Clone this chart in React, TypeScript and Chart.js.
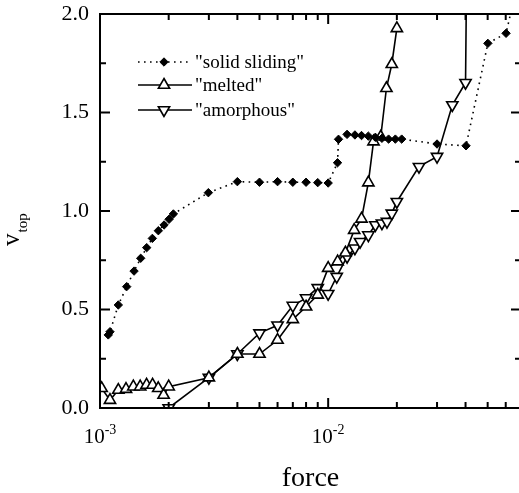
import React, { useEffect, useRef } from "react";
import { Chart, registerables } from "chart.js";

Chart.register(...registerables);

// "solid sliding" run
const solidForce = [
  1.087e-3, 1.106e-3, 1.203e-3, 1.309e-3, 1.41e-3, 1.508e-3, 1.602e-3, 1.696e-3, 1.802e-3,
  1.909e-3, 2.007e-3, 2.097e-3, 2.985e-3, 4.0e-3, 5.0e-3, 6.0e-3, 7.0e-3, 8.0e-3, 9.0e-3,
  1.0e-2, 1.099e-2, 1.11e-2, 1.21e-2, 1.31e-2, 1.4e-2, 1.5e-2, 1.61e-2, 1.72e-2, 1.84e-2,
  1.97e-2, 2.1e-2, 3.0e-2, 4.02e-2, 5.01e-2, 6.02e-2, 6.9e-2,
];
const solidV = [
  0.371, 0.387, 0.523, 0.616, 0.695, 0.76, 0.814, 0.861, 0.9,
  0.929, 0.958, 0.985, 1.093, 1.149, 1.146, 1.149, 1.146, 1.146, 1.144,
  1.142, 1.245, 1.364, 1.389, 1.386, 1.383, 1.38, 1.374, 1.369, 1.365,
  1.365, 1.365, 1.34, 1.331, 1.851, 1.902, 2.2,
];

// "melted" run
const meltedForce = [
  1.017e-3, 1.106e-3, 1.203e-3, 1.3e-3, 1.4e-3, 1.5e-3, 1.6e-3, 1.7e-3, 1.8e-3, 1.9e-3,
  2.0e-3, 3.0e-3, 4.0e-3, 5.0e-3, 6.0e-3, 7.0e-3, 8.0e-3, 9.0e-3, 1.0e-2, 1.1e-2,
  1.19e-2, 1.3e-2, 1.4e-2, 1.5e-2, 1.58e-2, 1.7e-2, 1.8e-2, 1.9e-2, 2.0e-2,
];
const meltedV = [
  0.1, 0.04, 0.091, 0.096, 0.108, 0.108, 0.117, 0.117, 0.1, 0.066,
  0.108, 0.154, 0.274, 0.274, 0.345, 0.45, 0.514, 0.574, 0.71, 0.743,
  0.788, 0.903, 0.96, 1.144, 1.352, 1.377, 1.623, 1.745, 1.927,
];

// "amorphous" run
const amorphousForce = [
  2.0e-3, 3.0e-3, 4.0e-3, 5.0e-3, 6.0e-3, 7.0e-3, 8.0e-3, 9.0e-3, 1.0e-2, 1.09e-2,
  1.21e-2, 1.31e-2, 1.38e-2, 1.5e-2, 1.61e-2, 1.72e-2, 1.81e-2, 1.9e-2, 2.0e-2, 2.5e-2,
  3.0e-2, 3.5e-2, 4.0e-2, 4.05e-2,
];
const amorphousV = [
  0.0, 0.154, 0.274, 0.38, 0.42, 0.52, 0.558, 0.61, 0.58, 0.667,
  0.768, 0.811, 0.844, 0.878, 0.929, 0.938, 0.946, 0.988, 1.047, 1.225,
  1.276, 1.538, 1.651, 2.3,
];

const seriesLabels = ['"solid sliding"', '"melted"', '"amorphous"'];

// axis ticks
const xMin = 1e-3;
const xMax = 0.07;
const xMajorTicks = [1e-3, 1e-2];
const xMajorExponents = ["-3", "-2"];
const xMinorTicks = [2e-3, 3e-3, 4e-3, 5e-3, 6e-3, 7e-3, 8e-3, 9e-3, 2e-2, 3e-2, 4e-2, 5e-2, 6e-2];
const yMajorTicks = [0, 0.5, 1.0, 1.5, 2.0];
const yTickLabels = ["0.0", "0.5", "1.0", "1.5", "2.0"];
const yMinorTicks = [0.25, 0.75, 1.25, 1.75];

const SERIF = "'Liberation Serif', 'Times New Roman', serif";

const toPoints = (xs: number[], ys: number[]) => xs.map((x, i) => ({ x, y: ys[i] }));

// same geometry Chart.js uses for its 'rectRot' and 'triangle' point styles
function drawMarker(ctx: CanvasRenderingContext2D, style: string, rotationDeg: number, r: number, x: number, y: number) {
  ctx.beginPath();
  if (style === "rectRot") {
    ctx.moveTo(x, y - r);
    ctx.lineTo(x + r, y);
    ctx.lineTo(x, y + r);
    ctx.lineTo(x - r, y);
  } else {
    let rad = (rotationDeg * Math.PI) / 180;
    ctx.moveTo(x + Math.sin(rad) * r, y - Math.cos(rad) * r);
    rad += (2 * Math.PI) / 3;
    ctx.lineTo(x + Math.sin(rad) * r, y - Math.cos(rad) * r);
    rad += (2 * Math.PI) / 3;
    ctx.lineTo(x + Math.sin(rad) * r, y - Math.cos(rad) * r);
  }
  ctx.closePath();
  ctx.fill();
  ctx.stroke();
}

const axesPlugin = {
  id: "framedAxes",
  afterDraw(chart: any) {
    const ctx: CanvasRenderingContext2D = chart.ctx;
    const { left, right, top, bottom } = chart.chartArea;
    const xs = chart.scales.x;
    const ys = chart.scales.y;
    const line = (x1: number, y1: number, x2: number, y2: number) => {
      ctx.beginPath();
      ctx.moveTo(x1, y1);
      ctx.lineTo(x2, y2);
      ctx.stroke();
    };

    ctx.save();
    ctx.strokeStyle = "#000";
    ctx.fillStyle = "#000";
    ctx.lineWidth = 2;
    ctx.setLineDash([]);
    ctx.strokeRect(left, top, right - left, bottom - top);

    // inward ticks on all four sides
    for (const v of xMajorTicks) {
      const px = xs.getPixelForValue(v);
      line(px, bottom, px, bottom - 10);
      line(px, top, px, top + 10);
    }
    for (const v of xMinorTicks) {
      const px = xs.getPixelForValue(v);
      line(px, bottom, px, bottom - 6);
      line(px, top, px, top + 6);
    }
    for (const v of yMajorTicks) {
      const py = ys.getPixelForValue(v);
      line(left, py, left + 10, py);
      line(right, py, right - 10, py);
    }
    for (const v of yMinorTicks) {
      const py = ys.getPixelForValue(v);
      line(left, py, left + 6, py);
      line(right, py, right - 6, py);
    }

    // y tick labels
    ctx.font = `22px ${SERIF}`;
    ctx.textAlign = "right";
    ctx.textBaseline = "middle";
    yMajorTicks.forEach((v, i) => {
      ctx.fillText(yTickLabels[i], left - 11, ys.getPixelForValue(v));
    });

    // x tick labels as powers of ten
    xMajorTicks.forEach((v, i) => {
      const px = xs.getPixelForValue(v);
      ctx.font = `21px ${SERIF}`;
      const wBase = ctx.measureText("10").width;
      ctx.font = `14px ${SERIF}`;
      const wExp = ctx.measureText(xMajorExponents[i]).width;
      const x0 = px - (wBase + wExp) / 2;
      ctx.textAlign = "left";
      ctx.textBaseline = "alphabetic";
      ctx.font = `21px ${SERIF}`;
      ctx.fillText("10", x0, bottom + 35);
      ctx.font = `14px ${SERIF}`;
      ctx.fillText(xMajorExponents[i], x0 + wBase, bottom + 26);
    });

    // axis titles
    ctx.font = `28px ${SERIF}`;
    ctx.textAlign = "center";
    ctx.textBaseline = "alphabetic";
    ctx.fillText("force", (left + 521) / 2, 486);

    ctx.save();
    ctx.translate(19, 246);
    ctx.rotate(-Math.PI / 2);
    ctx.textAlign = "left";
    ctx.font = `25px ${SERIF}`;
    ctx.fillText("v", 0, 0);
    const wv = ctx.measureText("v").width;
    ctx.font = `15px ${SERIF}`;
    ctx.fillText("top", wv + 1, 8);
    ctx.restore();

    // legend, styled from the datasets
    const rows = [62, 85, 110];
    chart.data.datasets.forEach((ds: any, i: number) => {
      const y = rows[i];
      ctx.strokeStyle = "#000";
      ctx.lineWidth = ds.borderWidth;
      ctx.setLineDash(ds.borderDash || []);
      line(138, y, 192, y);
      ctx.setLineDash([]);
      ctx.lineWidth = ds.pointBorderWidth;
      ctx.strokeStyle = ds.pointBorderColor;
      ctx.fillStyle = ds.pointBackgroundColor;
      drawMarker(ctx, ds.pointStyle, ds.pointRotation || 0, ds.pointRadius, 164, y);
      ctx.fillStyle = "#000";
      ctx.strokeStyle = "#000";
      ctx.font = `19px ${SERIF}`;
      ctx.textAlign = "left";
      ctx.textBaseline = "middle";
      ctx.fillText(ds.label, 195, y + 1);
    });
    ctx.restore();
  },
};

export default function App() {
  const canvasRef = useRef<HTMLCanvasElement | null>(null);

  useEffect(() => {
    const canvas = canvasRef.current;
    if (!canvas) return;
    const chart = new Chart(canvas, {
      type: "line",
      data: {
        datasets: [
          {
            label: seriesLabels[0],
            data: toPoints(solidForce, solidV),
            borderColor: "#000",
            borderWidth: 1.6,
            borderDash: [1.6, 4.4],
            pointStyle: "rectRot",
            pointRadius: 4.2,
            pointBackgroundColor: "#000",
            pointBorderColor: "#000",
            pointBorderWidth: 1,
            tension: 0,
          },
          {
            label: seriesLabels[1],
            data: toPoints(meltedForce, meltedV),
            borderColor: "#000",
            borderWidth: 1.6,
            pointStyle: "triangle",
            pointRadius: 6.5,
            pointRotation: 0,
            pointBackgroundColor: "#fff",
            pointBorderColor: "#000",
            pointBorderWidth: 1.6,
            tension: 0,
          },
          {
            label: seriesLabels[2],
            data: toPoints(amorphousForce, amorphousV),
            borderColor: "#000",
            borderWidth: 1.6,
            pointStyle: "triangle",
            pointRadius: 6.5,
            pointRotation: 180,
            pointBackgroundColor: "#fff",
            pointBorderColor: "#000",
            pointBorderWidth: 1.6,
            tension: 0,
          },
        ],
      },
      options: {
        animation: false,
        responsive: false,
        maintainAspectRatio: false,
        devicePixelRatio: 1,
        layout: { padding: { left: 100, top: 14, right: 19, bottom: 85 } },
        scales: {
          x: { type: "logarithmic", min: xMin, max: xMax, display: false },
          y: { type: "linear", min: 0, max: 2, display: false },
        },
        plugins: { legend: { display: false }, tooltip: { enabled: false } },
      },
      plugins: [axesPlugin],
    } as any);
    return () => chart.destroy();
  }, []);

  return (
    <div
      style={{
        position: "fixed",
        left: 0,
        top: 0,
        width: 519,
        height: 493,
        overflow: "hidden",
        background: "#fff",
      }}
    >
      <canvas ref={canvasRef} width={540} height={493} style={{ display: "block" }} />
    </div>
  );
}
